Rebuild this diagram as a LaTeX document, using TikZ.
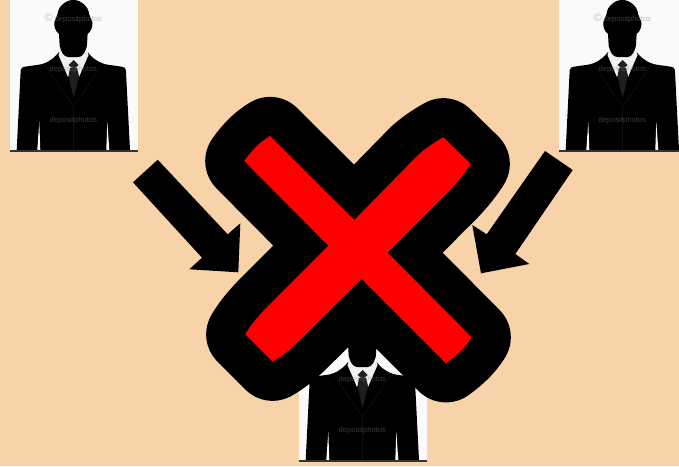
\documentclass[tikz,border=0pt]{standalone}
\usepackage{fontspec}
\setmainfont{Liberation Sans}
\definecolor{peach}{HTML}{F8D2A8}
\definecolor{paper}{HTML}{FAFAFA}
\definecolor{collar}{HTML}{F0F0F0}
\definecolor{tiegrey}{HTML}{1E1E1E}
\definecolor{knotgrey}{HTML}{202020}
\definecolor{seam}{HTML}{101010}
\definecolor{rulegrey}{HTML}{333333}
\tikzset{
  silhouette/.style={fill=black,draw=none},
  blockarrow/.style={fill=black,draw=none},
  seamline/.style={draw=seam,line width=0.7pt},
  mark text/.style={inner sep=0pt,text=gray,text opacity=0.45,font=\fontsize{7.6}{9}\selectfont},
  person/.pic={
    \fill[paper] (10,0) rectangle (138,150);
    % suit
    \path[silhouette] (16.7,150) -- (20.7,70) .. controls (21,67.5) and (23,67) .. (25,66.7)
      .. controls (35,65) and (41,65) .. (45,63) .. controls (52,60) and (56,56) .. (59,52)
      -- (87.6,52) .. controls (90.6,56) and (94.6,60) .. (101.6,63)
      .. controls (105.6,65) and (111.6,65) .. (121.6,66.7) .. controls (123.6,67) and (125.6,67.5) .. (125.9,70)
      -- (130,150) -- cycle;
    % vents
    \fill[paper] (39.3,121.7) -- (40.3,150) -- (37.3,150) -- cycle;
    \fill[paper] (107.3,121.7) -- (109.3,150) -- (106.3,150) -- cycle;
    % seams
    \draw[seamline] (45,65) -- (73.7,107) -- (101.7,65);
    \draw[seamline] (73.7,107) -- (73.7,150);
    % collar and tie
    \fill[collar] (60,50) -- (87,50) -- (88.5,55) -- (79,77) -- (73.5,68) -- (68,77) -- (58.5,55) -- cycle;
    \fill[tiegrey] (70,68) -- (77,68) -- (79,76) -- (73.6,98) -- (68.5,76) -- cycle;
    \fill[knotgrey] (73.5,60) -- (78.7,65) -- (73.5,69.5) -- (68.7,65) -- cycle;
    % head
    \path[silhouette] (73.3,0) .. controls (69,0) and (66,1.5) .. (63,4)
      .. controls (59.5,7) and (58,10) .. (57.5,14)
      .. controls (57,17) and (55,19) .. (54.3,22) .. controls (53.8,26) and (55,31) .. (59,34)
      -- (59.7,46) .. controls (61,51) and (63.5,57) .. (68,57) -- (78.6,57)
      .. controls (83.1,57) and (85.6,51) .. (86.9,46) -- (87.6,34)
      .. controls (91.6,31) and (92.8,26) .. (92.3,22) .. controls (91.6,19) and (89.6,17) .. (89.1,14)
      .. controls (88.6,10) and (87.1,7) .. (83.6,4)
      .. controls (80.6,1.5) and (77.6,0) .. (73.3,0) -- cycle;
    \fill[rulegrey] (10,150) rectangle (138,151.5);
    % watermarks
    \node[mark text] (wma) at (73.3,18) {\fontsize{11}{11}\selectfont ©\,\fontsize{7.6}{9}\selectfont depositphotos};
    \node[mark text] (wmb) at (73.3,70) {depositphotos};
    \node[mark text] (wmc) at (73.3,121) {depositphotos};
  }
}
\begin{document}
\begin{tikzpicture}[x=1pt,y=-1pt]
  \useasboundingbox (0,0) rectangle (679,466);
  \clip (0,0) rectangle (679,466);
  \fill[peach] (0,0) rectangle (679,466);

  \pic (pa) at (0,0) {person};
  \pic (pb) at (549,0) {person};
  \pic (pc) at (289,310) {person};

  % arrows
  \path[blockarrow] (133,182.3) -- (157.7,159.7) -- (227.7,234.3) -- (240.3,223.3)
    -- (238.3,272.3) -- (189.3,269.3) -- (202,257.7) -- cycle;
  \path[blockarrow] (545,151) -- (572.7,170) -- (515.3,254) -- (529.3,264)
    -- (481,273.3) -- (472.3,225) -- (486.7,234.3) -- cycle;

  % cross
  \path[draw=black,line width=78pt,line join=round,fill=red]
    (244.3,161) .. controls (252,150) and (260,142) .. (270,136)
    -- (354.3,220) -- (418,155) .. controls (427,147) and (435,142) .. (443.3,137.3)
    -- (470.7,164) .. controls (465,173) and (455,186) .. (440,200)
    -- (387.7,252.7) -- (471.7,337.3) .. controls (465,348) and (456,356) .. (446,363.3)
    -- (361.7,279) -- (300,340) .. controls (290,350) and (281,357) .. (272.7,361.7)
    -- (245.3,334.3) .. controls (250,326) and (258,316) .. (270,304)
    -- (328.3,245.7) -- cycle;
  \path[fill=red]
    (244.3,161) .. controls (252,150) and (260,142) .. (270,136)
    -- (354.3,220) -- (418,155) .. controls (427,147) and (435,142) .. (443.3,137.3)
    -- (470.7,164) .. controls (465,173) and (455,186) .. (440,200)
    -- (387.7,252.7) -- (471.7,337.3) .. controls (465,348) and (456,356) .. (446,363.3)
    -- (361.7,279) -- (300,340) .. controls (290,350) and (281,357) .. (272.7,361.7)
    -- (245.3,334.3) .. controls (250,326) and (258,316) .. (270,304)
    -- (328.3,245.7) -- cycle;
\end{tikzpicture}
\end{document}
